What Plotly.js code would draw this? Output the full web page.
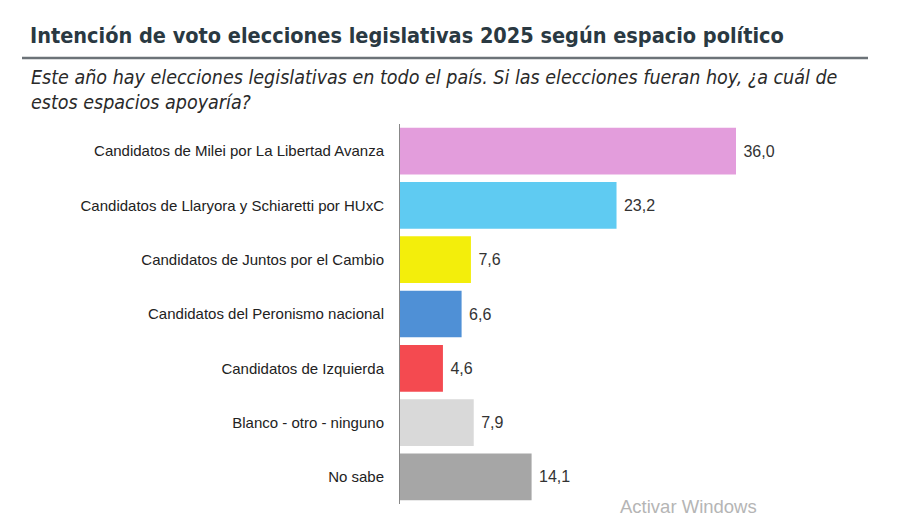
<!DOCTYPE html>
<html><head><meta charset="utf-8">
<script src="https://cdn.plot.ly/plotly-3.0.1.min.js"></script>
<style>html,body{margin:0;padding:0;background:#fff}#chart{width:900px;height:524px}</style>
</head><body><div id="chart"></div>
<script>
const categories = [
  "Candidatos de Milei por La Libertad Avanza",
  "Candidatos de Llaryora y Schiaretti por HUxC",
  "Candidatos de Juntos por el Cambio",
  "Candidatos del Peronismo nacional",
  "Candidatos de Izquierda",
  "Blanco - otro - ninguno",
  "No sabe"
];
const values = [36.0, 23.2, 7.6, 6.6, 4.6, 7.9, 14.1];
const colors = ["#e39ddc", "#5fcbf2", "#f3ee0b", "#4f90d6", "#f44a50", "#d9d9d9", "#a6a6a6"];

const W = 900, H = 524;
const L = 400, R = 80, T = 124, B = 20;
const pw = W - L - R, ph = H - T - B;
const px = x => (x - L) / pw;
const py = y => 1 - (y - T) / ph;

const trace = {
  type: "bar", orientation: "h",
  y: categories, x: values,
  marker: {color: colors, line: {width: 0}},
  width: 0.86,
  texttemplate: " %{x:.1f}", textposition: "outside", cliponaxis: false,
  textfont: {family: "Liberation Sans, Arial, sans-serif", size: 16, color: "#333"},
  hoverinfo: "none"
};

const layout = {
  width: W, height: H,
  margin: {l: L, r: R, t: T, b: B},
  paper_bgcolor: "#fff", plot_bgcolor: "#fff",
  separators: ",.",
  showlegend: false,
  font: {family: "Liberation Sans, Arial, sans-serif", color: "#222"},
  xaxis: {range: [0, 45], showgrid: false, zeroline: false, showticklabels: false, showline: false, ticks: "", fixedrange: true},
  yaxis: {autorange: "reversed", showgrid: false, zeroline: false, showline: true, linecolor: "#888", linewidth: 1,
          ticks: "", ticklabelstandoff: 12, tickfont: {size: 15, color: "#222", family: "Liberation Sans, Arial, sans-serif"}, fixedrange: true},
  title: {
    text: "Intención de voto elecciones legislativas 2025 según espacio político",
    x: 30 / W, xanchor: "left", xref: "container",
    y: 1 - 35 / H, yanchor: "middle", yref: "container",
    font: {family: "DejaVu Sans Condensed, sans-serif", size: 21.5, color: "#2a3942", weight: 700}
  },
  shapes: [{
    type: "line", xref: "paper", yref: "paper",
    x0: px(22), x1: px(868), y0: py(58), y1: py(58),
    line: {color: "#6c7378", width: 2.5}
  }],
  annotations: [
    {text: "Este año hay elecciones legislativas en todo el país. Si las elecciones fueran hoy, ¿a cuál de<br>estos espacios apoyaría?",
     xref: "paper", yref: "paper", x: px(29), y: py(64), xanchor: "left", yanchor: "top", align: "left", showarrow: false,
     font: {family: "DejaVu Sans Condensed, sans-serif", size: 19.5, color: "#2a2a2a", style: "italic"}},
    {text: "Activar Windows", xref: "paper", yref: "paper", x: px(618), y: py(506), xanchor: "left", yanchor: "middle",
     showarrow: false, font: {family: "Liberation Sans, Arial, sans-serif", size: 18.5, color: "#b5b5b5"}}
  ]
};

Plotly.newPlot("chart", [trace], layout, {displayModeBar: false, staticPlot: true});
</script></body></html>
